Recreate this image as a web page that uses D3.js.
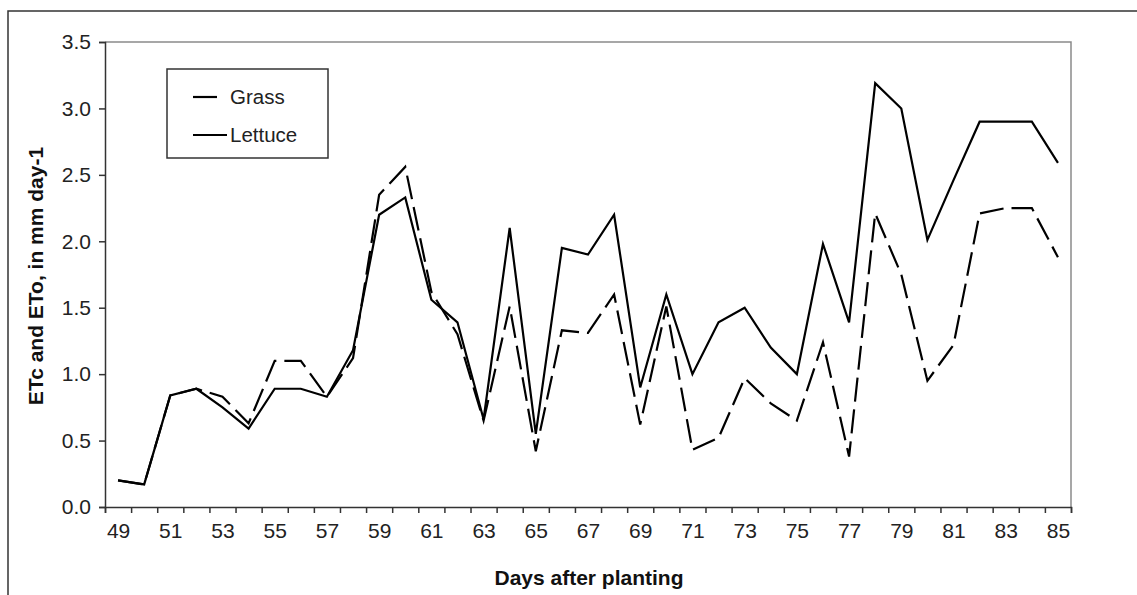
<!DOCTYPE html>
<html lang="en">
<head>
<meta charset="UTF-8">
<title>ETc and ETo</title>
<script src="https://d3js.org/d3.v7.min.js"></script>
<style>
  body { margin: 0; background: #fff; }
  svg { display: block; font-family: Arial, "Liberation Sans", sans-serif; }
  .tick text { fill: #222; }
</style>
</head>
<body>
<svg id="chart" width="1137" height="595"></svg>
<script>
// days after planting (categories)
const days = [49, 50, 51, 52, 53, 54, 55, 56, 57, 58, 59, 60, 61, 62, 63, 64, 65, 66, 67,
              68, 69, 70, 71, 72, 73, 74, 75, 76, 77, 78, 79, 80, 81, 82, 83, 84, 85];
const grass = [0.20, 0.17, 0.84, 0.89, 0.83, 0.63, 1.10, 1.10, 0.83, 1.12, 2.35, 2.56, 1.62,
               1.30, 0.65, 1.51, 0.42, 1.33, 1.31, 1.60, 0.62, 1.51, 0.43, 0.52, 0.97, 0.78,
               0.65, 1.24, 0.38, 2.21, 1.75, 0.95, 1.22, 2.21, 2.25, 2.25, 1.88];
const lettuce = [0.20, 0.17, 0.84, 0.89, 0.75, 0.59, 0.89, 0.89, 0.83, 1.18, 2.20, 2.33, 1.56,
                 1.39, 0.66, 2.10, 0.55, 1.95, 1.90, 2.20, 0.90, 1.60, 1.00, 1.39, 1.50, 1.20,
                 1.00, 1.98, 1.39, 3.19, 3.00, 2.01, 2.46, 2.90, 2.90, 2.90, 2.59];
const yTicks = [0, 0.5, 1.0, 1.5, 2.0, 2.5, 3.0, 3.5];
const xLabels = days.filter(d => d % 2 === 1);

const svg = d3.select("#chart");
const plotL = 105, plotR = 1071, plotT = 42, plotB = 507;

// outer frame (runs off the right and bottom of the picture)
svg.append("rect")
  .attr("x", 8).attr("y", 11).attr("width", 1300).attr("height", 800)
  .attr("fill", "none").attr("stroke", "#333").attr("stroke-width", 1.5);

// categories are centred between tick marks
const x = d3.scaleLinear().domain([days[0] - 0.5, days[days.length - 1] + 0.5]).range([plotL, plotR]);
const y = d3.scaleLinear().domain([0, 3.5]).range([plotB, plotT]);

// plot area top/right border
svg.append("path")
  .attr("d", `M${plotL},${plotT}H${plotR}V${plotB}`)
  .attr("fill", "none").attr("stroke", "#8a8a8a").attr("stroke-width", 1.5);

// x tick marks at category boundaries
const xTickAxis = svg.append("g")
  .attr("transform", `translate(0,${plotB})`)
  .call(d3.axisBottom(x)
    .tickValues(d3.range(days.length + 1).map(i => days[0] - 0.5 + i))
    .tickSize(6).tickFormat(""));
xTickAxis.selectAll("line,path").attr("stroke", "#333").attr("stroke-width", 1.5);

// x labels every other day
const xLab = svg.append("g")
  .attr("transform", `translate(0,${plotB})`)
  .call(d3.axisBottom(x).tickValues(xLabels).tickSize(0).tickPadding(16).tickFormat(d3.format("d")));
xLab.select(".domain").remove();
xLab.selectAll("text").attr("font-size", 21).attr("font-family", "Arial, 'Liberation Sans', sans-serif");

// y axis
const yAxis = svg.append("g")
  .attr("transform", `translate(${plotL},0)`)
  .call(d3.axisLeft(y).tickValues(yTicks).tickSize(6).tickPadding(8).tickFormat(d3.format(".1f")));
yAxis.selectAll("line,path").attr("stroke", "#333").attr("stroke-width", 1.5);
yAxis.selectAll("text").attr("font-size", 21).attr("font-family", "Arial, 'Liberation Sans', sans-serif");

// lines
const line = d3.line().x((d, i) => x(days[i])).y(d => y(d));

svg.append("path")
  .datum(grass)
  .attr("d", line)
  .attr("fill", "none").attr("stroke", "#000").attr("stroke-width", 2.2)
  .attr("stroke-dasharray", "24,8");

svg.append("path")
  .datum(lettuce)
  .attr("d", line)
  .attr("fill", "none").attr("stroke", "#000").attr("stroke-width", 2.2)
  .attr("stroke-linejoin", "miter");

// axis titles
svg.append("text")
  .attr("x", (plotL + plotR) / 2 + 1).attr("y", 585)
  .attr("text-anchor", "middle").attr("font-size", 21).attr("font-weight", "bold")
  .attr("fill", "#111")
  .text("Days after planting");

svg.append("text")
  .attr("transform", "translate(43,276) rotate(-90)")
  .attr("text-anchor", "middle").attr("font-size", 21).attr("font-weight", "bold")
  .attr("fill", "#111")
  .text("ETc and ETo, in mm day-1");

// legend
const legend = svg.append("g");
legend.append("rect")
  .attr("x", 167).attr("y", 69).attr("width", 161).attr("height", 89)
  .attr("fill", "#fff").attr("stroke", "#333").attr("stroke-width", 1.5);
const items = [
  { name: "Grass", x2: 217, yy: 97 },
  { name: "Lettuce", x2: 227, yy: 135 }
];
items.forEach(it => {
  legend.append("line")
    .attr("x1", 193).attr("x2", it.x2).attr("y1", it.yy).attr("y2", it.yy)
    .attr("stroke", "#000").attr("stroke-width", 2.2);
  legend.append("text")
    .attr("x", 230).attr("y", it.yy).attr("dy", "0.35em")
    .attr("font-size", 20.5).attr("fill", "#222")
    .text(it.name);
});
</script>
</body>
</html>
